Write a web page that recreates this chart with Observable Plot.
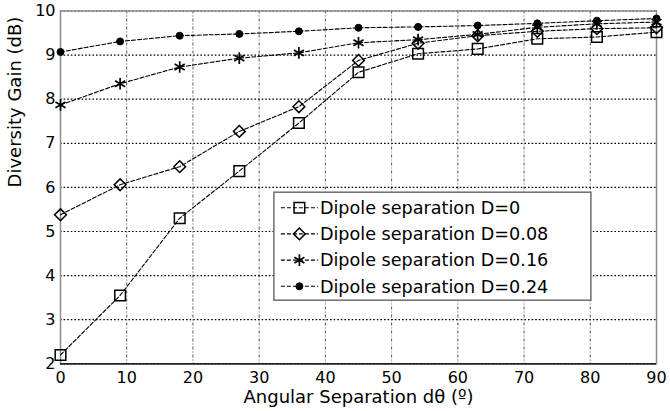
<!DOCTYPE html>
<html>
<head>
<meta charset="utf-8">
<script src="https://cdn.jsdelivr.net/npm/d3@7"></script>
<script src="https://cdn.jsdelivr.net/npm/@observablehq/plot@0.6"></script>
<style>
  body { margin: 0; background: #fff; }
  #chart { width: 670px; height: 411px; }
</style>
</head>
<body>
<div id="chart"></div>
<script>
// Angular separation (degrees) at which diversity gain was evaluated
const angles = [0, 9, 18, 27, 36, 45, 54, 63, 72, 81, 90];

// Diversity gain (dB) for each dipole separation D
const gainD000 = [2.20, 3.55, 5.30, 6.37, 7.46, 8.61, 9.03, 9.14, 9.37, 9.41, 9.52];
const gainD008 = [5.38, 6.06, 6.47, 7.27, 7.83, 8.88, 9.27, 9.44, 9.54, 9.60, 9.62];
const gainD016 = [7.87, 8.35, 8.73, 8.93, 9.05, 9.28, 9.35, 9.47, 9.63, 9.71, 9.75];
const gainD024 = [9.07, 9.31, 9.44, 9.48, 9.54, 9.62, 9.64, 9.67, 9.72, 9.78, 9.83];

const seriesLabels = [
  "Dipole separation D=0",
  "Dipole separation D=0.08",
  "Dipole separation D=0.16",
  "Dipole separation D=0.24"
];

const xTicks = [0, 10, 20, 30, 40, 50, 60, 70, 80, 90];
const yTicks = [2, 3, 4, 5, 6, 7, 8, 9, 10];
const xLabel = "Angular Separation dθ (º)";
const yLabel = "Diversity Gain (dB)";

const FONT = "'DejaVu Sans', Verdana, sans-serif";

// Marker style per series (MATLAB-like: square, diamond, star, dot)
const seriesValues = [gainD000, gainD008, gainD016, gainD024];
const markerStyles = [
  { symbol: "square",   r: 6.0, fill: "none",  strokeWidth: 1.5 },
  { symbol: "diamond2", r: 5.3, fill: "none",  strokeWidth: 1.5 },
  { symbol: "asterisk", r: 5.5, fill: "none",  strokeWidth: 1.7 },
  { symbol: "circle",   r: 3.5, fill: "black", strokeWidth: 1.0 }
];

const series = seriesValues.map((vals, i) =>
  angles.map((a, j) => ({ angle: a, gain: vals[j], series: seriesLabels[i] }))
);

const marks = [
  Plot.gridY(yTicks, { stroke: "black", strokeOpacity: 1, strokeWidth: 1.2, strokeDasharray: "1.6,2" }),
  Plot.gridX(xTicks, { stroke: "black", strokeOpacity: 0.85, strokeWidth: 0.8, strokeDasharray: "3,2,1,2" }),
  Plot.frame({ stroke: "#8c8c8c", strokeWidth: 1.5 }),
  Plot.ruleY([2], { stroke: "black", strokeWidth: 1.2 }),
  Plot.axisX({ ticks: xTicks, tickSize: 0, tickPadding: 8, fontSize: 16, label: null }),
  Plot.axisY({ ticks: yTicks, tickSize: 0, tickPadding: 5, fontSize: 16, label: null }),
  // axis titles
  Plot.text([xLabel], { frameAnchor: "bottom", lineAnchor: "middle", dy: 33, fontSize: 18, fill: "black" }),
  Plot.text([yLabel], { frameAnchor: "left", lineAnchor: "middle", rotate: -90, dx: -45, fontSize: 18, fill: "black" })
];

series.forEach((data, i) => {
  const st = markerStyles[i];
  marks.push(Plot.line(data, {
    x: "angle", y: "gain", stroke: "black", strokeWidth: 1.1, strokeDasharray: "4,2"
  }));
  marks.push(Plot.dot(data, {
    x: "angle", y: "gain", symbol: st.symbol, r: st.r,
    fill: st.fill, stroke: "black", strokeWidth: st.strokeWidth
  }));
});

const plot = Plot.plot({
  width: 670,
  height: 411,
  marginLeft: 60,
  marginRight: 14,
  marginTop: 10.5,
  marginBottom: 47.7,
  style: { fontSize: "16px", fontFamily: FONT, color: "black" },
  x: { domain: [0, 90] },
  y: { domain: [2, 10] },
  marks
});

document.getElementById("chart").appendChild(plot);

// Legend box drawn inside the plot area
const svg = d3.select(plot);
const xs = plot.scale("x"), ys = plot.scale("y");
const boxLeft = xs.apply(32.3), boxTop = ys.apply(5.88);
const boxW = 317, boxH = 108, rowGap = 26.2, firstRow = 15.5;
const lg = svg.append("g").attr("transform", `translate(${boxLeft},${boxTop})`);
lg.append("rect")
  .attr("width", boxW).attr("height", boxH)
  .attr("fill", "white").attr("stroke", "#6e6e6e").attr("stroke-width", 1.5);

const symbolTypes = { square: d3.symbolSquare, diamond2: d3.symbolDiamond2, asterisk: d3.symbolAsterisk, circle: d3.symbolCircle };
seriesLabels.forEach((label, i) => {
  const st = markerStyles[i];
  const cy = firstRow + i * rowGap;
  const row = lg.append("g").attr("transform", `translate(0,${cy})`);
  row.append("line")
    .attr("x1", 7).attr("x2", 44).attr("y1", 0).attr("y2", 0)
    .attr("stroke", "black").attr("stroke-width", 1.1).attr("stroke-dasharray", "4,2");
  row.append("path")
    .attr("transform", "translate(25.5,0)")
    .attr("d", d3.symbol(symbolTypes[st.symbol], Math.PI * st.r * st.r)())
    .attr("fill", st.fill).attr("stroke", "black").attr("stroke-width", st.strokeWidth);
  row.append("text")
    .attr("x", 46).attr("y", 0).attr("dy", "0.36em")
    .attr("text-anchor", "start")
    .attr("font-family", FONT)
    .attr("font-size", 17.6).attr("fill", "black")
    .text(label);
});
</script>
</body>
</html>
